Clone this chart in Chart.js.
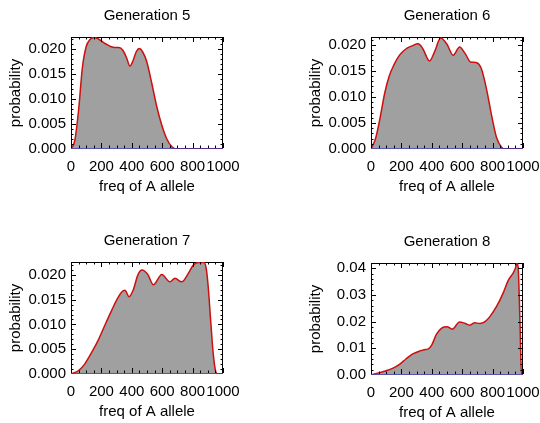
<!DOCTYPE html>
<html lang="en">
<head>
<meta charset="UTF-8">
<title>Allele frequency by generation</title>
<script src="https://cdn.jsdelivr.net/npm/chart.js@4.4.0/dist/chart.umd.min.js"></script>
<style>
	html, body { margin: 0; padding: 0; overflow: hidden; background: #fff; }
	#container { position: relative; width: 540px; height: 423px; }
	#container canvas { position: absolute; }
</style>
</head>
<body>
<div id="container"></div>

<script>
	// values
	const gen5X = [0, 25, 50, 75, 100, 125, 150, 175, 200, 230, 260, 290, 315, 340, 365, 388, 410, 430, 450, 470, 498, 531, 564, 597, 629, 662, 695, 750, 1000];
	const gen5Y = [0, 0.0017, 0.0078, 0.0163, 0.0205, 0.0219, 0.0223, 0.0221, 0.0216, 0.0210, 0.0205, 0.0203, 0.0203, 0.0198, 0.0183, 0.0166, 0.0178, 0.0195, 0.0201, 0.0195, 0.0175, 0.0132, 0.0085, 0.0048, 0.0021, 0.0005, 0, 0, 0];

	const gen6X = [0, 30, 60, 90, 120, 150, 180, 210, 240, 270, 310, 340, 385, 420, 458, 500, 540, 583, 620, 655, 690, 725, 760, 793, 826, 860, 885, 1000];
	const gen6Y = [0, 0.0020, 0.0060, 0.0107, 0.0140, 0.0161, 0.0177, 0.0187, 0.0194, 0.0198, 0.0202, 0.0193, 0.0169, 0.0188, 0.0213, 0.0201, 0.0180, 0.0196, 0.0183, 0.0167, 0.0166, 0.0155, 0.0115, 0.0065, 0.0022, 0.0003, 0, 0];

	const gen7X = [0, 50, 90, 135, 180, 225, 270, 300, 335, 355, 382, 410, 440, 467, 505, 542, 597, 651, 684, 728, 772, 805, 840, 875, 890, 903, 919, 936, 952, 965, 1000];
	const gen7Y = [0, 0.0007, 0.0020, 0.0043, 0.0069, 0.0100, 0.0130, 0.0149, 0.0166, 0.0169, 0.0156, 0.0170, 0.0200, 0.0210, 0.0201, 0.0180, 0.0201, 0.0186, 0.0193, 0.0186, 0.0203, 0.0220, 0.0225, 0.0225, 0.0212, 0.0175, 0.0107, 0.0040, 0.0005, 0, 0];

	const gen8X = [0, 55, 100, 145, 190, 230, 275, 320, 350, 375, 400, 430, 465, 500, 535, 583, 617, 650, 683, 716, 750, 782, 826, 870, 903, 936, 950, 960, 968, 980, 990, 1000];
	const gen8Y = [0, 0.0009, 0.0016, 0.0026, 0.0041, 0.0060, 0.0079, 0.0090, 0.0095, 0.0097, 0.0113, 0.0152, 0.0176, 0.0181, 0.0172, 0.0199, 0.0194, 0.0187, 0.0196, 0.0193, 0.0200, 0.0219, 0.0257, 0.0308, 0.0355, 0.0383, 0.0400, 0.0418, 0.0405, 0.0200, 0, 0];

	const xTicks = [0, 200, 400, 600, 800, 1000];

	const panels = [
		{ title: 'Generation 5', xs: gen5X, ys: gen5Y, yMax: 0.0224, yStep: 0.005, yMinor: 0.001, digits: 3, left: 0, top: 0 },
		{ title: 'Generation 6', xs: gen6X, ys: gen6Y, yMax: 0.0215, yStep: 0.005, yMinor: 0.001, digits: 3, left: 300, top: 0 },
		{ title: 'Generation 7', xs: gen7X, ys: gen7Y, yMax: 0.0226, yStep: 0.005, yMinor: 0.001, digits: 3, left: 0, top: 225 },
		{ title: 'Generation 8', xs: gen8X, ys: gen8Y, yMax: 0.0420, yStep: 0.01, yMinor: 0.002, digits: 2, left: 300, top: 226 }
	];

	Chart.defaults.font.family = '"Liberation Sans", Arial, sans-serif';
	Chart.defaults.font.size = 15;
	Chart.defaults.color = '#000';

	// box round the plot (under the curves), inward ticks on all four sides (over them)
	const framePlugin = {
		id: 'frame',
		beforeDatasetsDraw(chart) {
			const { ctx, chartArea: a } = chart;
			ctx.save();
			ctx.strokeStyle = '#000';
			ctx.lineWidth = 1;
			ctx.strokeRect(a.left + 0.5, a.top + 0.5, a.width - 1, a.height - 1);
			ctx.restore();
		},
		afterDatasetsDraw(chart, args, opts) {
			const { ctx, chartArea: a, scales: { x, y } } = chart;
			ctx.save();
			ctx.strokeStyle = '#000';
			ctx.lineWidth = 1;
			ctx.beginPath();
			for (let v = 0; v <= 1000; v += 50) {
				const px = Math.round(x.getPixelForValue(v)) + 0.5;
				const len = v % 200 === 0 ? 5 : 2.5;
				ctx.moveTo(px, a.bottom - 1); ctx.lineTo(px, a.bottom - 1 - len);
				ctx.moveTo(px, a.top); ctx.lineTo(px, a.top + len);
			}
			const per = Math.round(opts.step / opts.minor);
			for (let i = 0; i * opts.minor <= y.max + 1e-9; i++) {
				const py = Math.round(y.getPixelForValue(i * opts.minor)) + 0.5;
				if (i === 0) continue;
				const len = i % per === 0 ? 5 : 2.5;
				ctx.moveTo(a.left, py); ctx.lineTo(a.left + len, py);
				ctx.moveTo(a.right, py); ctx.lineTo(a.right - len, py);
			}
			ctx.stroke();
			ctx.restore();
		}
	};

	const container = document.getElementById('container');

	panels.forEach(p => {
		const canvas = document.createElement('canvas');
		canvas.setAttribute('width', '270');
		canvas.setAttribute('height', '225');
		canvas.style.left = p.left + 'px';
		canvas.style.top = p.top + 'px';
		container.appendChild(canvas);

		const yTicks = [];
		for (let v = 0; v <= p.yMax + 1e-9; v += p.yStep) yTicks.push(+v.toFixed(4));

		new Chart(canvas.getContext('2d'), {
			type: 'line',
			data: {
				datasets: [
					{
						data: p.xs.map((x, i) => ({ x: x, y: p.ys[i] })),
						borderColor: '#cc1010',
						borderWidth: 1.5,
						backgroundColor: '#a0a0a0',
						fill: 'origin',
						pointRadius: 0,
						cubicInterpolationMode: 'monotone',
						order: 2
					},
					{
						data: [{ x: 0, y: 0 }, { x: 1000, y: 0 }],
						borderColor: '#3c3cb4',
						borderWidth: 1.5,
						pointRadius: 0,
						fill: false,
						order: 1
					}
				]
			},
			options: {
				responsive: false,
				animation: false,
				layout: { padding: { left: 0, right: 47, top: 0, bottom: 0 } },
				plugins: {
					legend: { display: false },
					tooltip: { enabled: false },
					title: {
						display: true,
						text: p.title,
						fullSize: false,
						font: { size: 15, weight: 'normal' },
						padding: { top: 7, bottom: 12 }
					},
					frame: { step: p.yStep, minor: p.yMinor }
				},
				scales: {
					x: {
						type: 'linear',
						min: 0,
						max: 1000,
						grid: { display: false, drawTicks: false },
						border: { display: false },
						afterBuildTicks: s => { s.ticks = xTicks.map(v => ({ value: v })); },
						afterFit: s => { s.height = 76; },
						ticks: { autoSkip: false, maxRotation: 0, padding: 9, font: { size: 15 }, callback: v => String(v) },
						title: { display: true, text: 'freq of A allele', font: { size: 15 }, padding: { top: 0, bottom: 29 } }
					},
					y: {
						type: 'linear',
						min: 0,
						max: p.yMax,
						grid: { display: false, drawTicks: false },
						border: { display: false },
						afterBuildTicks: s => { s.ticks = yTicks.map(v => ({ value: v })); },
						afterFit: s => { s.width = 71; },
						ticks: { padding: 5, font: { size: 15 }, callback: v => v.toFixed(p.digits) },
						title: { display: true, text: 'probability', font: { size: 15 }, padding: { top: 7, bottom: 0 } }
					}
				}
			},
			plugins: [framePlugin]
		});
	});
</script>
</body>
</html>
